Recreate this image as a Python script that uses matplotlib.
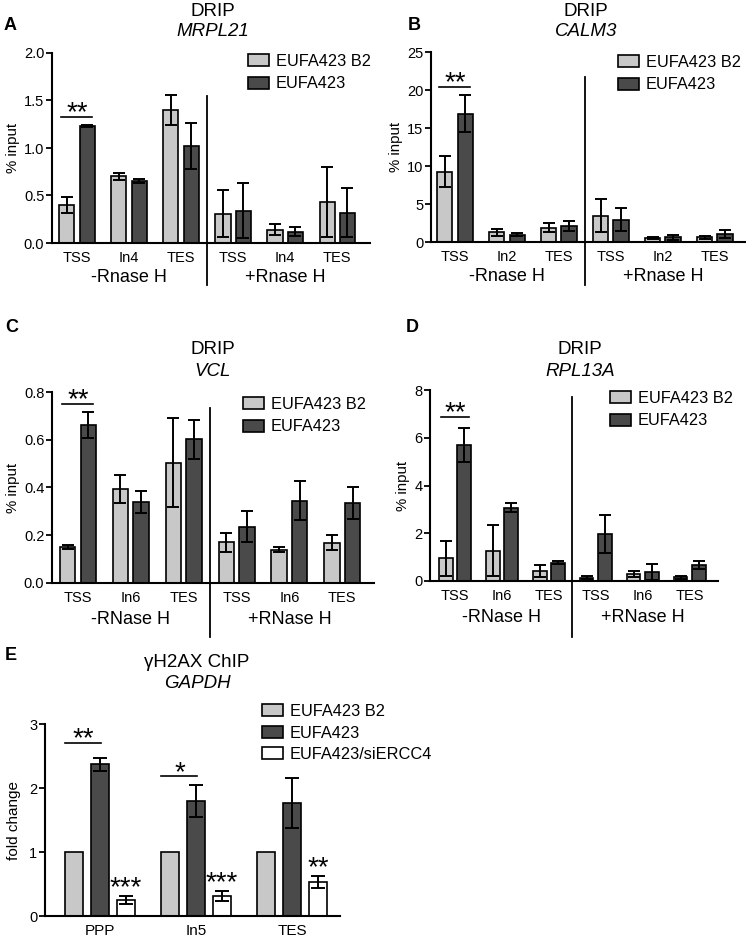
import matplotlib
matplotlib.use('Agg')
import matplotlib.pyplot as plt
from matplotlib.patches import Patch
from matplotlib.transforms import offset_copy
import numpy as np

plt.rcParams['font.family'] = ['Liberation Sans', 'DejaVu Sans']

# ---------------- data ----------------
series_names = ['EUFA423 B2', 'EUFA423']
e_series_names = ['EUFA423 B2', 'EUFA423', 'EUFA423/siERCC4']

A_sites = ['TSS', 'In4', 'TES', 'TSS', 'In4', 'TES']
A_b2 = [0.40, 0.70, 1.40, 0.31, 0.14, 0.43]
A_b2_err = [0.08, 0.04, 0.155, 0.25, 0.06, 0.37]
A_ko = [1.23, 0.65, 1.02, 0.34, 0.12, 0.32]
A_ko_err = [0.01, 0.02, 0.24, 0.29, 0.05, 0.26]

B_sites = ['TSS', 'In2', 'TES', 'TSS', 'In2', 'TES']
B_b2 = [9.25, 1.3, 1.9, 3.45, 0.5, 0.65]
B_b2_err = [2.05, 0.45, 0.6, 2.15, 0.15, 0.2]
B_ko = [16.9, 0.95, 2.1, 2.95, 0.6, 1.05]
B_ko_err = [2.4, 0.2, 0.6, 1.5, 0.35, 0.5]

C_sites = ['TSS', 'In6', 'TES', 'TSS', 'In6', 'TES']
C_b2 = [0.151, 0.395, 0.504, 0.17, 0.14, 0.169]
C_b2_err = [0.01, 0.058, 0.187, 0.04, 0.012, 0.03]
C_ko = [0.662, 0.339, 0.602, 0.235, 0.345, 0.335]
C_ko_err = [0.055, 0.045, 0.081, 0.065, 0.083, 0.068]

D_sites = ['TSS', 'In6', 'TES', 'TSS', 'In6', 'TES']
D_b2 = [0.95, 1.27, 0.42, 0.14, 0.29, 0.15]
D_b2_err = [0.73, 1.08, 0.26, 0.05, 0.13, 0.05]
D_ko = [5.7, 3.07, 0.77, 1.97, 0.38, 0.67]
D_ko_err = [0.72, 0.2, 0.05, 0.8, 0.32, 0.17]

E_sites = ['PPP', 'In5', 'TES']
E_b2 = [1.0, 1.0, 1.0]
E_ko = [2.37, 1.80, 1.77]
E_ko_err = [0.10, 0.25, 0.39]
E_si = [0.245, 0.31, 0.53]
E_si_err = [0.065, 0.08, 0.09]
E_si_stars = ['***', '***', '**']

# ---------------- style ----------------
LIGHT = '#c8c8c8'
DARK = '#4a4a4a'
STAR_FS = 20
W, H = 746, 938
fig = plt.figure(figsize=(W / 100, H / 100), dpi=100)


def px_axes(x0, ytop, x1, ybot):
    return fig.add_axes([x0 / W, 1 - ybot / H, (x1 - x0) / W, (ybot - ytop) / H])


def fx(x):
    return x / W


def fy(y):
    return 1 - y / H


def stars(ax, x, y, s, dy_pt):
    tr = offset_copy(ax.transData, fig=fig, y=dy_pt, units='points')
    ax.text(x, y, s, ha='center', va='baseline', fontsize=STAR_FS,
            transform=tr, clip_on=False)


def style_axes(ax, yticks, fmt, ylim, xfs=10.5):
    for s in ['top', 'right']:
        ax.spines[s].set_visible(False)
    for s in ['left', 'bottom']:
        ax.spines[s].set_linewidth(1.5)
    ax.set_ylim(*ylim)
    ax.set_yticks(yticks)
    ax.set_yticklabels([fmt.format(v) for v in yticks], fontsize=10.5)
    ax.tick_params(axis='y', length=4, width=1.3, pad=1.5)
    ax.tick_params(axis='x', length=0, pad=6, labelsize=xfs)


def drip_panel(rect, sites, b2, b2e, ko, koe, ylim, yticks, fmt, xlim,
               div_top, div_bot, glabels, sig_y, title_xy, gene, letter_xy,
               letter, leg_xy):
    ax = px_axes(*rect)
    x = np.arange(len(sites))
    bw = 0.29
    off = 0.195
    ekw = dict(ecolor='black', elinewidth=1.4, capsize=4, capthick=1.4)
    ax.bar(x - off, b2, bw, yerr=b2e, color=LIGHT, edgecolor='black',
           linewidth=1.2, error_kw=ekw, zorder=2)
    ax.bar(x + off, ko, bw, yerr=koe, color=DARK, edgecolor='black',
           linewidth=1.2, error_kw=ekw, zorder=2)
    ax.set_xlim(*xlim)
    style_axes(ax, yticks, fmt, ylim)
    ax.set_xticks(x)
    ax.set_xticklabels(sites)
    ax.set_ylabel('% input', fontsize=10.8, labelpad=3)
    # divider
    ax.plot([2.5, 2.5], [div_bot, div_top], color='black', lw=1.3,
            transform=ax.get_xaxis_transform(), clip_on=False)
    # group labels
    ax.text(1, glabels[2], glabels[0], ha='center', va='center', fontsize=13,
            transform=ax.get_xaxis_transform())
    ax.text(4, glabels[2], glabels[1], ha='center', va='center', fontsize=13,
            transform=ax.get_xaxis_transform())
    # significance
    ax.plot([-0.30, 0.29], [sig_y, sig_y], color='black', lw=1.2, clip_on=False)
    stars(ax, 0, sig_y, '**', -2.5)
    # titles
    fig.text(fx(title_xy[0]), fy(title_xy[1]), 'DRIP', ha='center',
             va='center', fontsize=13.5)
    fig.text(fx(title_xy[0]), fy(title_xy[1] + 21), gene, ha='center',
             va='center', fontsize=13.5, style='italic')
    fig.text(fx(letter_xy[0]), fy(letter_xy[1]), letter, ha='left',
             va='center', fontsize=13, fontweight='bold')
    handles = [Patch(facecolor=LIGHT, edgecolor='black', linewidth=1.2),
               Patch(facecolor=DARK, edgecolor='black', linewidth=1.2)]
    fig.legend(handles, series_names, loc='upper left',
               bbox_to_anchor=(fx(leg_xy[0]), fy(leg_xy[1])), frameon=False,
               fontsize=11.8, borderpad=0, borderaxespad=0, handlelength=1.3,
               handleheight=0.75, handletextpad=0.4, labelspacing=0.45)
    return ax


# Panel A
drip_panel((52, 53, 370, 243), A_sites, A_b2, A_b2_err, A_ko, A_ko_err,
           (0, 2.0), [0, 0.5, 1.0, 1.5, 2.0], '{:.1f}', (-0.48, 5.63),
           0.774, -0.22, ('-Rnase H', '+Rnase H', -0.18), 1.33,
           (213, 11), 'MRPL21', (4, 25), 'A', (248, 54))

# Panel B
drip_panel((431, 52, 745, 242), B_sites, B_b2, B_b2_err, B_ko, B_ko_err,
           (0, 25), [0, 5, 10, 15, 20, 25], '{:d}', (-0.46, 5.58),
           0.868, -0.226, ('-Rnase H', '+Rnase H', -0.18), 20.4,
           (586, 11), 'CALM3', (408, 25), 'B', (618, 55))

# Panel C
drip_panel((52, 392, 374, 583), C_sites, C_b2, C_b2_err, C_ko, C_ko_err,
           (0, 0.8), [0.0, 0.2, 0.4, 0.6, 0.8], '{:.1f}', (-0.49, 5.6),
           0.916, -0.283, ('-RNase H', '+RNase H', -0.19), 0.75,
           (213, 350), 'VCL', (5, 328), 'C', (243, 397))

# Panel D
drip_panel((430, 390, 718, 581), D_sites, D_b2, D_b2_err, D_ko, D_ko_err,
           (0, 8), [0, 2, 4, 6, 8], '{:d}', (-0.53, 5.6),
           0.963, -0.293, ('-RNase H', '+RNase H', -0.19), 6.86,
           (580, 350), 'RPL13A', (406, 328), 'D', (610, 391))

# Panel E
axE = px_axes(45, 724, 340, 916)
xe = np.arange(len(E_sites))
bwE = 0.19
offE = 0.27
ekwE = dict(ecolor='black', elinewidth=1.4, capsize=5, capthick=1.4)
axE.bar(xe - offE, E_b2, bwE, color=LIGHT, edgecolor='black', linewidth=1.2,
        zorder=2)
axE.bar(xe, E_ko, bwE, yerr=E_ko_err, color=DARK, edgecolor='black',
        linewidth=1.2, error_kw=ekwE, zorder=2)
axE.bar(xe + offE, E_si, bwE, yerr=E_si_err, color='white', edgecolor='black',
        linewidth=1.2, error_kw=ekwE, zorder=2)
axE.set_xlim(-0.57, 2.5)
style_axes(axE, [0, 1, 2, 3], '{:d}', (0, 3), xfs=11)
axE.set_xticks(xe)
axE.set_xticklabels(E_sites)
axE.set_ylabel('fold change', fontsize=11, labelpad=6)
for i in range(3):
    stars(axE, xe[i] + offE, E_si[i] + E_si_err[i], E_si_stars[i], 0.5)
axE.plot([-0.36, 0.01], [2.70, 2.70], color='black', lw=1.2)
stars(axE, -0.17, 2.70, '**', -2.5)
axE.plot([0.64, 1.01], [2.18, 2.18], color='black', lw=1.2)
stars(axE, 0.83, 2.18, '*', -2.5)
fig.text(fx(197), fy(662), 'γH2AX ChIP', ha='center', va='center',
         fontsize=13.5)
fig.text(fx(197), fy(683), 'GAPDH', ha='center', va='center', fontsize=13.5,
         style='italic')
fig.text(fx(5), fy(655), 'E', ha='left', va='center', fontsize=13,
         fontweight='bold')
handlesE = [Patch(facecolor=LIGHT, edgecolor='black', linewidth=1.2),
            Patch(facecolor=DARK, edgecolor='black', linewidth=1.2),
            Patch(facecolor='white', edgecolor='black', linewidth=1.2)]
fig.legend(handlesE, e_series_names, loc='upper left',
           bbox_to_anchor=(fx(262), fy(704)), frameon=False, fontsize=11.8,
           borderpad=0, borderaxespad=0, handlelength=1.3, handleheight=0.75,
           handletextpad=0.4, labelspacing=0.4)

fig.savefig('out.png', dpi=100)
